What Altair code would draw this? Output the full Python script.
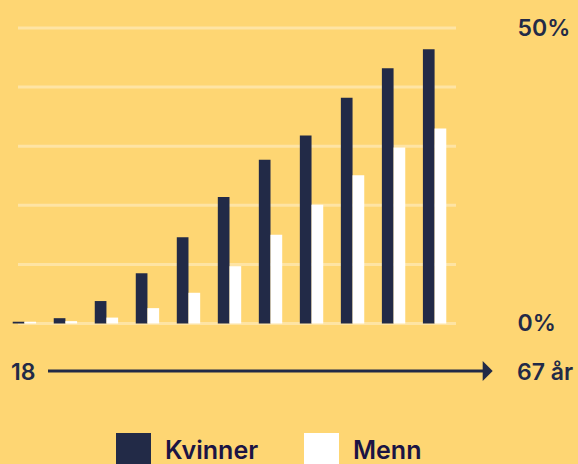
import altair as alt
import pandas as pd

# --- data ---
age_groups = ["18–22", "23–27", "28–32", "33–37", "38–42", "43–47",
              "48–52", "53–57", "58–62", "63–65", "66–67"]
kvinner = [0.3, 0.9, 3.8, 8.5, 14.6, 21.4, 27.7, 31.8, 38.2, 43.2, 46.4]
menn = [0.3, 0.4, 1.0, 2.6, 5.2, 9.7, 15.0, 20.1, 25.1, 29.8, 33.0]
series = ["Kvinner", "Menn"]
grid_values = [0, 10, 20, 30, 40, 50]
axis_values = [0, 50]
start_label = "18"
end_label = "67 år"

BG = "#FED673"
NAVY = "#222A47"
LEGEND_NAVY = "#1B1444"
FONT = "Inter"
WEIGHT = 600
FS = 23

rows = []
for i, g in enumerate(age_groups):
    rows.append({"alder": g, "kjønn": "Kvinner", "andel": kvinner[i]})
    rows.append({"alder": g, "kjønn": "Menn", "andel": menn[i]})
df = pd.DataFrame(rows)

yscale = alt.Scale(domain=[0, 50], nice=False, zero=True)
yaxis = alt.Axis(orient="right", values=axis_values, title=None,
                 labelExpr="datum.value + '%'", domain=False,
                 ticks=False, grid=False, labelPadding=58,
                 labelAlign="left", labelBaseline="middle",
                 labelFontSize=FS, labelFont=FONT,
                 labelFontWeight=WEIGHT, labelColor=NAVY)

grid = alt.Chart(pd.DataFrame({"v": grid_values})).mark_rule(
    color="white", opacity=0.35, strokeWidth=3
).encode(
    y=alt.Y("v:Q", scale=yscale, axis=yaxis),
    x=alt.value(18),
    x2=alt.value(456),
)

bars = alt.Chart(df).mark_bar(strokeWidth=0).encode(
    x=alt.X("alder:N", sort=age_groups, axis=None,
            scale=alt.Scale(paddingInner=0.43, paddingOuter=0.31)),
    xOffset=alt.XOffset("kjønn:N", sort=series,
                        scale=alt.Scale(paddingInner=0, paddingOuter=0)),
    y=alt.Y("andel:Q", scale=yscale, axis=yaxis),
    color=alt.Color("kjønn:N", sort=series,
                    scale=alt.Scale(domain=series, range=[NAVY, "#FFFFFF"]),
                    legend=alt.Legend(
                        title=None, orient="none", direction="horizontal",
                        legendX=116, legendY=405, symbolType="square",
                        symbolSize=1225, symbolStrokeWidth=0,
                        labelFontSize=25, labelFont=FONT,
                        labelFontWeight=WEIGHT, labelColor=LEGEND_NAVY,
                        labelOffset=14, columnPadding=45, padding=0,
                        symbolOpacity=1)),
)

arrow_line = alt.Chart(pd.DataFrame({"a": [0]})).mark_rule(
    color=NAVY, strokeWidth=3
).encode(
    x=alt.value(48), x2=alt.value(484), y=alt.value(343)
)

arrow_head = alt.Chart(pd.DataFrame({"a": [0]})).mark_point(
    shape="M-0.5,-1L0.5,0L-0.5,1Z", filled=True, color=NAVY, opacity=1,
    size=400
).encode(
    x=alt.value(487.7), y=alt.value(343)
)

labels_df = pd.DataFrame({"t": [start_label, end_label], "pos": ["start", "end"]})
start_text = alt.Chart(labels_df[labels_df.pos == "start"]).mark_text(
    align="left", baseline="middle", fontSize=FS, font=FONT,
    fontWeight=WEIGHT, color=NAVY
).encode(text="t:N", x=alt.value(11), y=alt.value(345))

end_text = alt.Chart(labels_df[labels_df.pos == "end"]).mark_text(
    align="left", baseline="middle", fontSize=FS, font=FONT,
    fontWeight=WEIGHT, color=NAVY
).encode(text="t:N", x=alt.value(517), y=alt.value(345))

chart = alt.layer(grid, bars, arrow_line, arrow_head, start_text, end_text).properties(
    width=459, height=295.5,
    padding={"left": 0, "top": 28, "right": 119, "bottom": 140.5},
    autosize="none",
    background=BG,
).configure_view(stroke=None)

chart.save("out.html", embed_options={"renderer": "svg", "actions": False})
